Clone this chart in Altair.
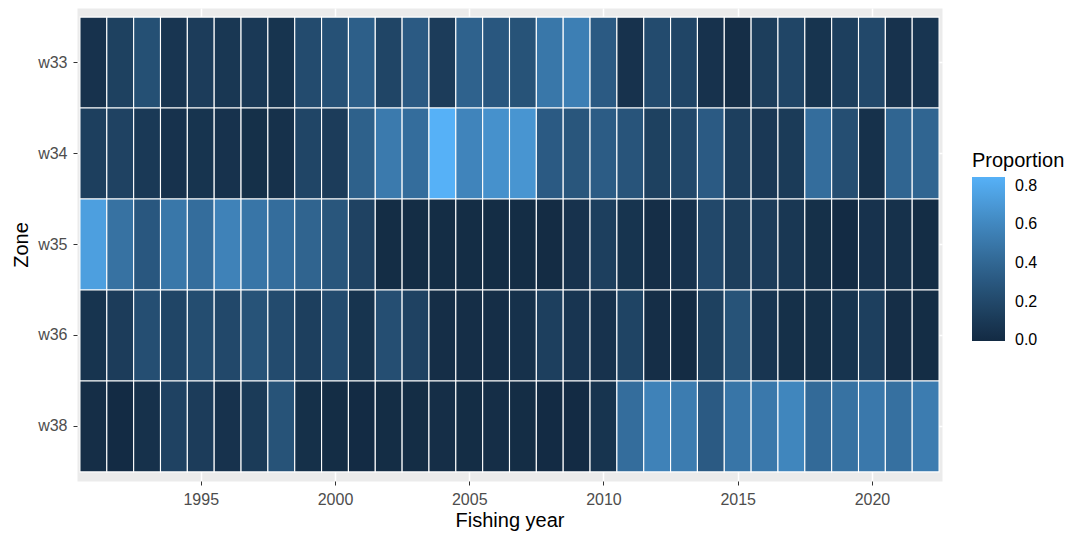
import altair as alt
import pandas as pd

years = list(range(1991, 2023))
zones = ["w33", "w34", "w35", "w36", "w38"]

w33 = [0.05, 0.15, 0.25, 0.07, 0.12, 0.08, 0.10, 0.06, 0.22, 0.26, 0.35, 0.18, 0.32, 0.12, 0.37, 0.30,
       0.27, 0.50, 0.55, 0.32, 0.05, 0.22, 0.18, 0.05, 0.02, 0.13, 0.18, 0.06, 0.14, 0.20, 0.05, 0.07]
w34 = [0.14, 0.16, 0.10, 0.05, 0.06, 0.05, 0.03, 0.04, 0.18, 0.12, 0.36, 0.52, 0.44, 0.845, 0.58, 0.66,
       0.68, 0.32, 0.29, 0.33, 0.28, 0.15, 0.20, 0.32, 0.14, 0.09, 0.11, 0.44, 0.24, 0.04, 0.39, 0.39]
w35 = [0.74, 0.47, 0.30, 0.50, 0.44, 0.57, 0.49, 0.44, 0.38, 0.29, 0.16, 0.01, 0.01, 0.01, 0.01, 0.01,
       0.01, 0.005, 0.05, 0.14, 0.06, 0.02, 0.05, 0.20, 0.13, 0.12, 0.08, 0.03, 0.0, 0.05, 0.04, 0.01]
w36 = [0.06, 0.12, 0.24, 0.18, 0.23, 0.20, 0.27, 0.22, 0.14, 0.22, 0.06, 0.24, 0.16, 0.02, 0.02, 0.02,
       0.04, 0.14, 0.07, 0.05, 0.17, 0.02, 0.005, 0.15, 0.27, 0.07, 0.03, 0.03, 0.06, 0.14, 0.02, 0.01]
w38 = [0.02, 0.0, 0.04, 0.16, 0.12, 0.05, 0.11, 0.27, 0.03, 0.01, 0.0, 0.01, 0.01, 0.02, 0.01, 0.02,
       0.01, 0.0, 0.0, 0.06, 0.44, 0.57, 0.53, 0.32, 0.49, 0.51, 0.59, 0.42, 0.47, 0.51, 0.46, 0.53]

series = {"w33": w33, "w34": w34, "w35": w35, "w36": w36, "w38": w38}
rows = []
for z in zones:
    for y, v in zip(years, series[z]):
        rows.append({"year": y, "zone": z, "Proportion": v})
df = pd.DataFrame(rows)

FONT = "Liberation Sans"
W, H = 865, 473

chart = (
    alt.Chart(df)
    .transform_calculate(x0="datum.year - 0.5", x1="datum.year + 0.5")
    .mark_rect(stroke="white", strokeWidth=1.1)
    .encode(
        x=alt.X(
            "x0:Q",
            scale=alt.Scale(domain=[1990.39, 2022.61], nice=False, zero=False),
            axis=alt.Axis(
                values=[1995, 2000, 2005, 2010, 2015, 2020],
                format="d",
                title="Fishing year",
                titleX=W / 2,
                titleY=45,
                titleBaseline="alphabetic",
                titleAlign="center",
                zindex=0,
            ),
        ),
        x2="x1:Q",
        y=alt.Y(
            "zone:N",
            sort=zones,
            scale=alt.Scale(paddingInner=0, paddingOuter=0.1),
            axis=alt.Axis(
                title="Zone",
                bandPosition=0.5,
                titleAngle=270,
                titleX=-50,
                titleY=H / 2,
                titleAlign="center",
                titleBaseline="alphabetic",
                zindex=0,
            ),
        ),
        color=alt.Color(
            "Proportion:Q",
            scale=alt.Scale(
                domain=[-0.003, 0.845],
                range=["#132B43", "#56B1F7"],
                interpolate="lab",
                nice=False,
                zero=False,
            ),
            legend=alt.Legend(
                title="Proportion",
                values=[0, 0.2, 0.4, 0.6, 0.8],
                format=".1f",
                orient="none",
                legendX=895,
                legendY=143,
                direction="vertical",
                gradientLength=164,
                gradientThickness=33,
                gradientStrokeWidth=0,
                labelOffset=10,
                titlePadding=6,
            ),
        ),
    )
    .properties(
        width=W,
        height=H,
        autosize=alt.AutoSizeParams(type="none"),
        padding={"left": 69, "top": 0, "right": 125, "bottom": 50},
    )
    .configure(font=FONT)
    .configure_view(fill="#EBEBEB", stroke="transparent")
    .configure_axis(
        grid=True,
        gridColor="white",
        gridWidth=1.5,
        domain=False,
        tickColor="#333333",
        tickWidth=1,
        tickSize=4,
        labelPadding=6,
        labelFont=FONT,
        labelFontSize=16,
        labelColor="#4D4D4D",
        titleFont=FONT,
        titleFontSize=20,
        titleFontWeight="normal",
        titleColor="black",
    )
    .configure_legend(
        titleFont=FONT,
        titleFontSize=20,
        titleFontWeight="normal",
        titleColor="black",
        labelFont=FONT,
        labelFontSize=16,
        labelColor="black",
    )
)

chart.save("out.html", embed_options={"renderer": "svg", "actions": False})
